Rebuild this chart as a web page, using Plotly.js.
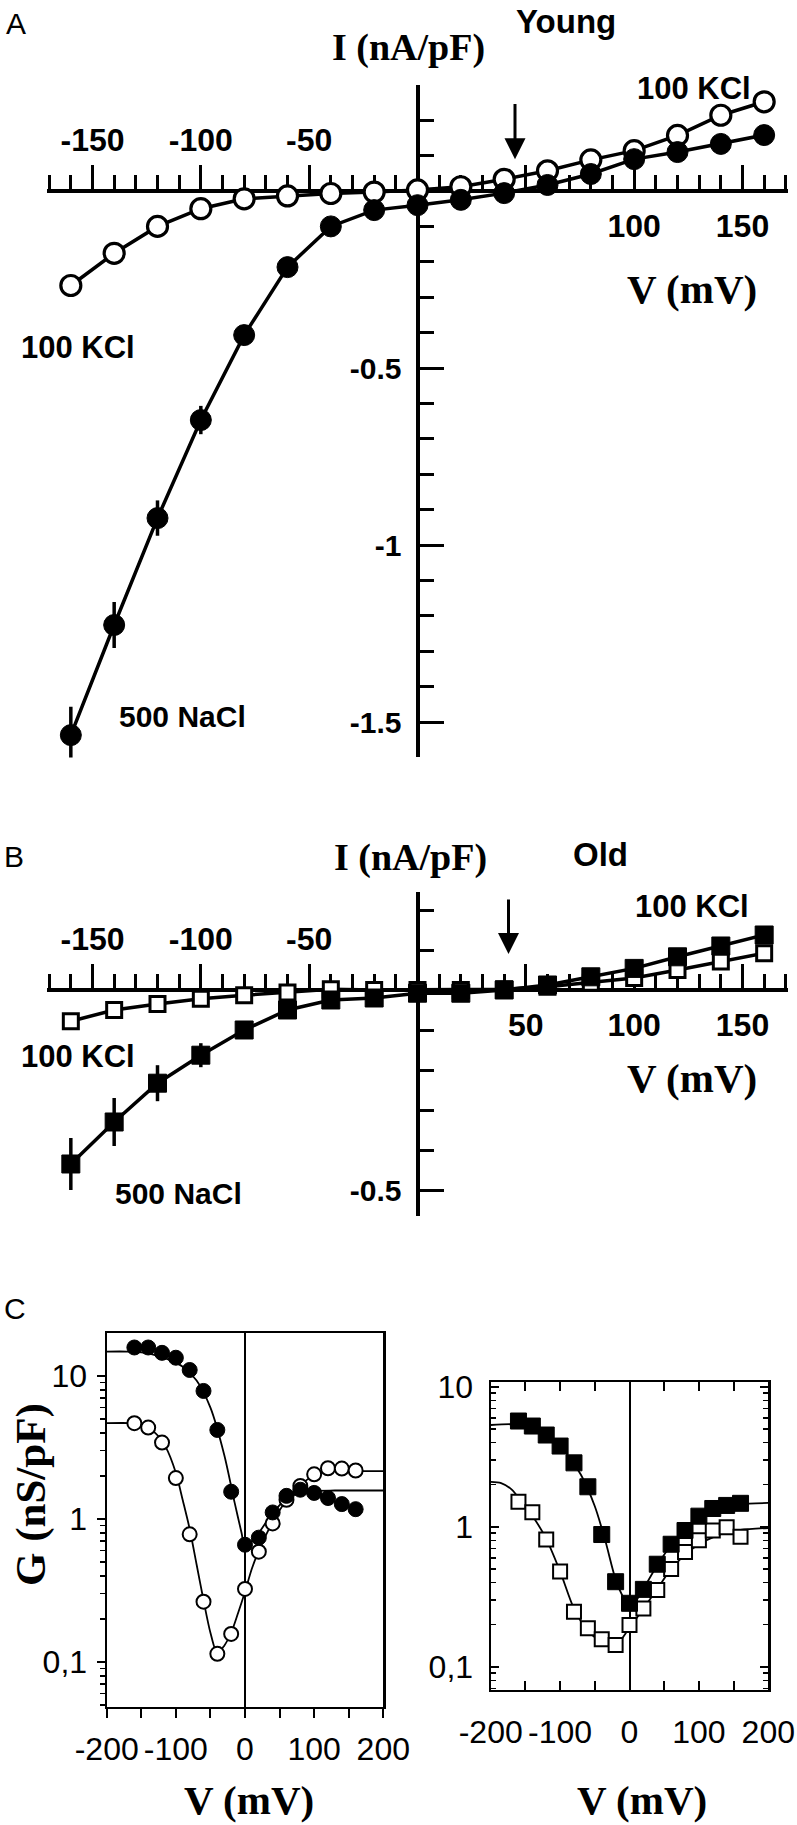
<!DOCTYPE html>
<html><head><meta charset="utf-8">
<script src="https://cdn.plot.ly/plotly-3.0.1.min.js"></script>
<style>html,body{margin:0;padding:0;background:#fff}#g{width:797px;height:1825px}</style>
</head><body><div id="g"></div>
<script>
// ---------------- data ----------------
const V = [-160,-140,-120,-100,-80,-60,-40,-20,0,20,40,60,80,100,120,140,160];

// Panel A (Young) I (nA/pF)
const A_KCl  = [-0.267,-0.176,-0.10,-0.05,-0.022,-0.014,-0.007,-0.003,0.003,0.012,0.033,0.057,0.088,0.114,0.157,0.214,0.252];
const A_NaCl = [-1.537,-1.226,-0.924,-0.647,-0.407,-0.215,-0.10,-0.054,-0.04,-0.025,-0.006,0.017,0.048,0.09,0.11,0.133,0.158];
const A_NaCl_err = [0.08,0.065,0.05,0.04,0.02,0.01,0,0,0,0,0,0,0,0,0,0,0];

// Panel B (Old) I (nA/pF)
const B_KCl  = [-0.078,-0.05,-0.035,-0.022,-0.013,-0.006,0.002,0.0,0.0,0.0,0.002,0.008,0.018,0.03,0.05,0.071,0.092];
const B_NaCl = [-0.435,-0.33,-0.233,-0.163,-0.10,-0.05,-0.025,-0.02,-0.008,-0.008,0.0,0.0125,0.033,0.054,0.083,0.11,0.1375];
const B_NaCl_err = [0.065,0.06,0.045,0.03,0.015,0,0,0,0,0,0,0,0,0,0,0,0];

// Panel C conductance G (nS/pF)
const CL_NaCl = [15.8,15.8,14.5,13.4,11.0,7.85,4.19,1.55,0.66,0.74,1.11,1.45,1.6,1.52,1.40,1.27,1.17];
const CL_KCl  = [4.67,4.35,3.42,1.93,0.78,0.264,0.114,0.157,0.324,0.59,0.93,1.36,1.70,2.05,2.26,2.25,2.18];
const CR_NaCl = [5.69,5.24,4.52,3.77,2.86,1.93,0.88,0.405,0.284,0.357,0.54,0.75,0.94,1.19,1.35,1.42,1.47];
const CR_KCl  = [1.51,1.27,0.81,0.48,0.247,0.188,0.157,0.143,0.199,0.261,0.353,0.50,0.66,0.80,0.94,0.99,0.85];

// fitted curves
const CL_NaCl_fitV = [-200,-170,-150,-130,-110,-90,-70,-50,-30,-15,-5,0,10,20,40,60,80,100,130,200];
const CL_NaCl_fitG = [14.8,14.8,14.6,14.0,13.0,11.6,9.3,6.0,2.8,1.3,0.8,0.63,0.7,0.8,1.1,1.38,1.52,1.57,1.58,1.58];
const CL_KCl_fitV  = [-200,-165,-150,-130,-115,-100,-90,-80,-70,-60,-50,-40,-30,-20,-10,0,10,20,40,60,80,100,120,140,200];
const CL_KCl_fitG  = [4.67,4.67,4.55,4.0,3.2,2.1,1.35,0.85,0.48,0.27,0.16,0.115,0.13,0.16,0.22,0.31,0.45,0.6,0.95,1.35,1.72,2.02,2.15,2.16,2.16];
const CR_NaCl_fitV = [-200,-165,-150,-130,-110,-90,-70,-50,-35,-20,-10,0,10,20,40,60,80,100,120,140,160,200];
const CR_NaCl_fitG = [5.33,5.4,5.3,4.9,4.2,3.3,2.35,1.4,0.8,0.42,0.32,0.27,0.3,0.36,0.53,0.74,0.95,1.15,1.3,1.4,1.45,1.48];
const CR_KCl_fitV  = [-200,-185,-170,-155,-140,-120,-100,-80,-60,-40,-25,-15,0,20,40,60,80,100,120,140,160,200];
const CR_KCl_fitG  = [2.09,2.05,1.85,1.5,1.2,0.82,0.48,0.26,0.18,0.15,0.14,0.15,0.19,0.26,0.36,0.50,0.63,0.75,0.84,0.91,0.95,0.98];

// tick labels
const IV_topTicks = [-150,-100,-50];
const IV_topText  = ['-150','-100','-50'];
const A_botTicks = [-150,-100,-50,50,100,150];
const A_botText  = ['','','','','100','150'];
const B_botText  = ['','','','50','100','150'];
const A_yTicks = [-1.5,-1,-0.5];
const A_yText  = ['-1.5','-1','-0.5'];
const B_yTicks = [-0.5];
const B_yText  = ['-0.5'];
const G_xTicks = [-200,-100,0,100,200];
const G_xText  = ['-200','-100','0','100','200'];
const G_yTicks = [0.1,1,10];
const G_yText  = ['0,1','1','10'];
const G_minorY = [0.05,0.06,0.07,0.08,0.09,0.2,0.3,0.4,0.5,0.6,0.7,0.8,0.9,2,3,4,5,6,7,8,9,20];

// ---------------- layout helpers ----------------
const W = 797, H = 1825;
const dx = (a,b) => [a/W, b/W];
const dy = (t,b) => [1-b/H, 1-t/H];
const PX = x => x/W, PY = y => 1-y/H;

const SANS = 'Liberation Sans, Arial, sans-serif';
const SERIF = 'Liberation Serif, Times New Roman, serif';
const boldTick = {family: SANS, size: 32, color: '#000', weight: 'bold'};
const regTick = {family: SANS, size: 32, color: '#000'};

const ivX = (dom, pos, botText) => ({
  domain: dom, range: [-171,171], anchor: 'free', position: pos, side: 'bottom',
  showline: true, linewidth: 4, linecolor: '#000', layer: 'below traces',
  zeroline: false, showgrid: false,
  ticks: 'inside', ticklen: 24, tickwidth: 3, tickcolor: '#000',
  tickmode: 'array', tickvals: A_botTicks, ticktext: botText,
  minor: {tickmode: 'linear', tick0: 0, dtick: 10, ticks: 'inside', ticklen: 14, tickwidth: 3, tickcolor: '#000', showgrid: false},
  tickfont: boldTick, ticklabelstandoff: 6
});
const ivX2 = (base, pos) => ({
  overlaying: base, range: [-171,171], anchor: 'free', position: pos, side: 'top',
  showline: false, zeroline: false, showgrid: false,
  ticks: 'outside', ticklen: 24, tickwidth: 3, tickcolor: '#000',
  tickmode: 'array', tickvals: IV_topTicks, ticktext: IV_topText,
  tickfont: boldTick, ticklabelstandoff: 3
});
const ivY = (dom, range, tv, tt) => ({
  domain: dom, range: range, anchor: 'free', position: PX(417.5), side: 'left',
  showline: true, linewidth: 4, linecolor: '#000', layer: 'below traces',
  zeroline: false, showgrid: false,
  ticks: 'inside', ticklen: 24, tickwidth: 3, tickcolor: '#000',
  tickmode: 'array', tickvals: tv, ticktext: tt,
  minor: {tickmode: 'linear', tick0: 0, dtick: 0.1, ticks: 'inside', ticklen: 14, tickwidth: 3, tickcolor: '#000', showgrid: false},
  tickfont: {family: SANS, size: 30, color: '#000', weight: 'bold'}, ticklabelstandoff: 8
});
const gX = (dom, anchor, inside) => ({
  domain: dom, range: [-200,200], anchor: anchor,
  showline: true, mirror: inside ? 'ticks' : true, linewidth: 2.2, linecolor: '#000',
  zeroline: true, zerolinewidth: 2, zerolinecolor: '#000', showgrid: false,
  ticks: inside ? 'inside' : 'outside', ticklen: 9, tickwidth: 2, tickcolor: '#000',
  tickmode: 'array', tickvals: G_xTicks, ticktext: G_xText,
  minor: {tickmode: 'array', tickvals: [-150,-50,50,150], ticks: inside ? 'inside' : 'outside', ticklen: 9, tickwidth: 2, tickcolor: '#000', showgrid: false},
  tickfont: regTick, ticklabelstandoff: inside ? 12 : 3
});
const gY = (dom, anchor, range, inside) => ({
  domain: dom, type: 'log', range: range, anchor: anchor,
  showline: true, mirror: inside ? 'ticks' : true, linewidth: 2.2, linecolor: '#000',
  zeroline: false, showgrid: false,
  ticks: inside ? 'inside' : 'outside', ticklen: 8, tickwidth: 2, tickcolor: '#000',
  tickmode: 'array', tickvals: G_yTicks, ticktext: G_yText,
  minor: {tickmode: 'array', tickvals: G_minorY, ticks: inside ? 'inside' : 'outside', ticklen: 5, tickwidth: 1.5, tickcolor: '#000', showgrid: false},
  tickfont: regTick, ticklabelstandoff: inside ? 9 : 3
});

const openM = (sym, size, lw) => ({symbol: sym, size: size, color: '#fff', line: {color: '#000', width: lw}});
const fillM = (sym, size) => ({symbol: sym, size: size, color: '#000', line: {color: '#000', width: 1}});

const traces = [
  // Panel A
  {x: V, y: A_KCl, xaxis: 'x', yaxis: 'y', mode: 'lines+markers', line: {color: '#000', width: 3.5}, marker: openM('circle', 20, 3.2)},
  {x: V, y: A_NaCl, xaxis: 'x2', yaxis: 'y', mode: 'lines+markers', line: {color: '#000', width: 3.5}, marker: fillM('circle', 21),
   error_y: {type: 'data', array: A_NaCl_err, color: '#000', thickness: 3.5, width: 0}},
  // Panel B
  {x: V, y: B_KCl, xaxis: 'x3', yaxis: 'y2', mode: 'lines+markers', line: {color: '#000', width: 3.5}, marker: openM('square', 15, 3)},
  {x: V, y: B_NaCl, xaxis: 'x4', yaxis: 'y2', mode: 'lines+markers', line: {color: '#000', width: 3.5}, marker: fillM('square', 18),
   error_y: {type: 'data', array: B_NaCl_err, color: '#000', thickness: 3.5, width: 0}},
  // Panel C left (young)
  {x: CL_NaCl_fitV, y: CL_NaCl_fitG, xaxis: 'x5', yaxis: 'y3', mode: 'lines', line: {color: '#000', width: 1.8, shape: 'spline', smoothing: 0.8}},
  {x: CL_KCl_fitV, y: CL_KCl_fitG, xaxis: 'x5', yaxis: 'y3', mode: 'lines', line: {color: '#000', width: 1.8, shape: 'spline', smoothing: 0.8}},
  {x: V, y: CL_KCl, xaxis: 'x5', yaxis: 'y3', mode: 'markers', marker: openM('circle', 14, 2)},
  {x: V, y: CL_NaCl, xaxis: 'x5', yaxis: 'y3', mode: 'markers', marker: fillM('circle', 15)},
  // Panel C right (old)
  {x: CR_NaCl_fitV, y: CR_NaCl_fitG, xaxis: 'x6', yaxis: 'y4', mode: 'lines', line: {color: '#000', width: 1.8, shape: 'spline', smoothing: 0.8}},
  {x: CR_KCl_fitV, y: CR_KCl_fitG, xaxis: 'x6', yaxis: 'y4', mode: 'lines', line: {color: '#000', width: 1.8, shape: 'spline', smoothing: 0.8}},
  {x: V, y: CR_KCl, xaxis: 'x6', yaxis: 'y4', mode: 'markers', marker: openM('square', 14, 2)},
  {x: V, y: CR_NaCl, xaxis: 'x6', yaxis: 'y4', mode: 'markers', marker: fillM('square', 16)}
];

const txt = (t, x, y, font, extra) => Object.assign({text: t, x: PX(x), y: PY(y), xref: 'paper', yref: 'paper',
  showarrow: false, xanchor: 'center', yanchor: 'middle', font: font}, extra || {});
const lblFont = {family: SANS, size: 31, color: '#000', weight: 'bold'};
const naFont = {family: SANS, size: 30, color: '#000', weight: 'bold'};
const ivTitle = {family: SERIF, size: 38, color: '#000', weight: 'bold'};
const vTitle = {family: SERIF, size: 41, color: '#000', weight: 'bold'};
const panelFont = {family: SANS, size: 30, color: '#000'};
const ageFont = {family: SANS, size: 33, color: '#000', weight: 'bold'};

const annotations = [
  txt('A', 16, 23, panelFont),
  txt('I (nA/pF)', 408, 48, ivTitle),
  txt('Young', 566, 22, ageFont),
  txt('100 KCl', 694, 88, lblFont),
  txt('100 KCl', 78, 348, lblFont),
  txt('V (mV)', 692, 289, vTitle),
  txt('500 NaCl', 182, 717, naFont),
  {x: 45, y: 0.09, ax: 45, ay: 0.25, xref: 'x', yref: 'y', axref: 'x', ayref: 'y', text: '', showarrow: true,
   arrowhead: 2, arrowsize: 1.4, arrowwidth: 3, arrowcolor: '#000'},

  txt('B', 14, 856, panelFont),
  txt('I (nA/pF)', 410, 857, ivTitle),
  txt('Old', 600, 855, ageFont),
  txt('100 KCl', 692, 906, lblFont),
  txt('100 KCl', 78, 1056, lblFont),
  txt('V (mV)', 692, 1078, vTitle),
  txt('500 NaCl', 178, 1193, naFont),
  {x: 42, y: 0.09, ax: 42, ay: 0.23, xref: 'x3', yref: 'y2', axref: 'x3', ayref: 'y2', text: '', showarrow: true,
   arrowhead: 2, arrowsize: 1.4, arrowwidth: 3, arrowcolor: '#000'},

  txt('C', 15, 1308, panelFont),
  txt('G (nS/pF)', 31, 1495, {family: SERIF, size: 43, color: '#000', weight: 'bold'}, {textangle: -90}),
  txt('V (mV)', 249, 1800, vTitle),
  txt('V (mV)', 642, 1800, vTitle)
];

const layout = {
  width: W, height: H, margin: {l: 0, r: 0, t: 0, b: 0, pad: 0},
  paper_bgcolor: '#fff', plot_bgcolor: 'rgba(0,0,0,0)', showlegend: false,
  xaxis:  ivX(dx(47,788), PY(191), A_botText),
  xaxis2: ivX2('x', PY(191)),
  yaxis:  ivY(dy(84.8,757.4), [-1.6,0.3], A_yTicks, A_yText),
  xaxis3: ivX(dx(47,788), PY(990), B_botText),
  xaxis4: ivX2('x3', PY(990)),
  yaxis2: ivY(dy(891.6,1216), [-0.565,0.246], B_yTicks, B_yText),
  xaxis5: gX(dx(106.7,383.3), 'y3', false),
  yaxis3: gY(dy(1333,1707), 'x5', [-1.315,1.30], false),
  xaxis6: gX(dx(490.7,768.3), 'y4', true),
  yaxis4: gY(dy(1381.7,1690), 'x6', [-1.166,1.036], true),
  annotations: annotations
};

Plotly.newPlot('g', traces, layout, {staticPlot: true, displayModeBar: false});
</script>
</body></html>
